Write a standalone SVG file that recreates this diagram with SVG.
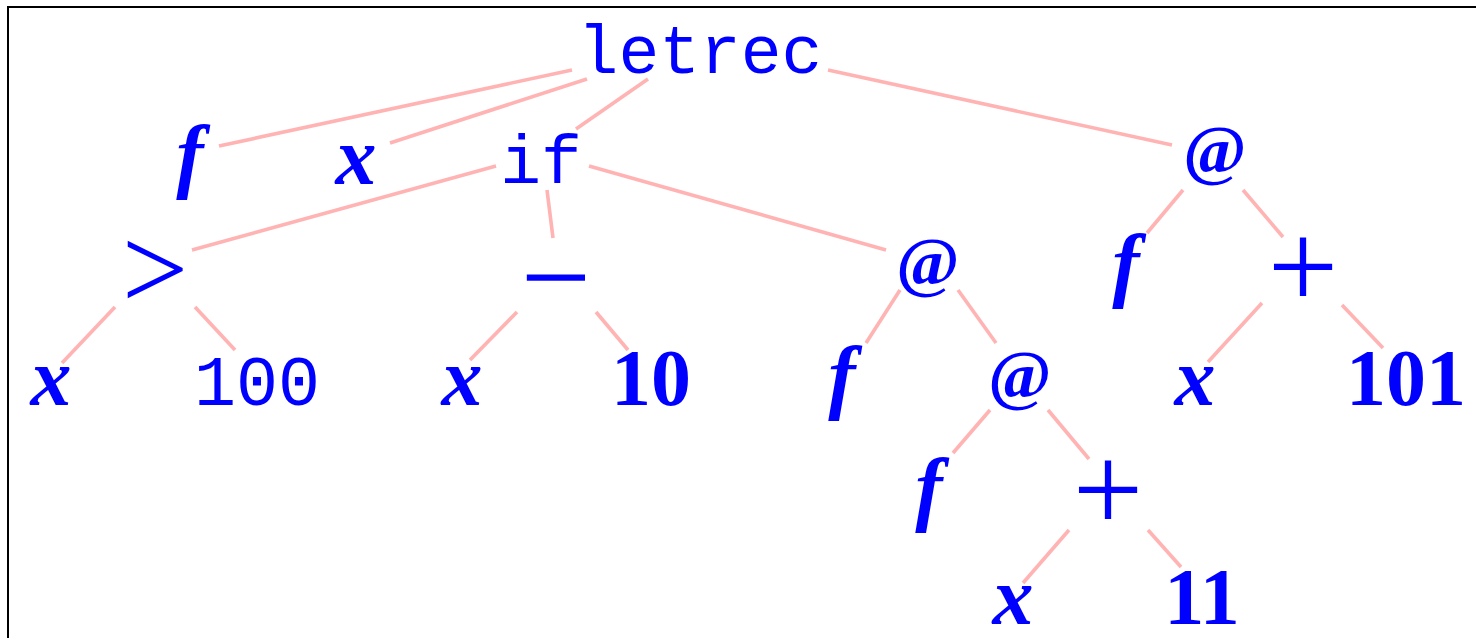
<svg xmlns="http://www.w3.org/2000/svg" width="1476" height="638" viewBox="0 0 1476 638">
<style>
.e{stroke:#FFB3B3;stroke-width:3.6;fill:none}
text{fill:#0000FF;text-anchor:middle}
.tt{font-family:"Liberation Mono",monospace;font-size:68px}
.v{font-family:"Liberation Serif",serif;font-style:italic;font-weight:bold;font-size:82px}
.n{font-family:"Liberation Serif",serif;font-weight:bold;font-size:80px}
.at{font-family:"Liberation Serif",serif;font-weight:bold;font-size:68px}
.op{font-family:"Liberation Serif",serif;font-size:125px}
</style>
<rect x="8" y="7" width="1480" height="640" fill="#fff" stroke="#000" stroke-width="2"/>
<g id="connectors">
<line class="e" x1="572" y1="70" x2="219" y2="146"/>
<line class="e" x1="587" y1="79" x2="390" y2="143"/>
<line class="e" x1="648" y1="79" x2="576" y2="129"/>
<line class="e" x1="828" y1="70" x2="1172" y2="145"/>
<line class="e" x1="496" y1="166" x2="192" y2="250"/>
<line class="e" x1="547" y1="190" x2="553" y2="238"/>
<line class="e" x1="589" y1="166" x2="886" y2="250"/>
<line class="e" x1="1183" y1="190" x2="1147" y2="233"/>
<line class="e" x1="1243" y1="190" x2="1283" y2="237"/>
<line class="e" x1="115" y1="307" x2="62" y2="363"/>
<line class="e" x1="195" y1="307" x2="235" y2="350"/>
<line class="e" x1="517" y1="312" x2="470" y2="360"/>
<line class="e" x1="596" y1="312" x2="628" y2="350"/>
<line class="e" x1="900" y1="290" x2="866" y2="343"/>
<line class="e" x1="958" y1="290" x2="996" y2="343"/>
<line class="e" x1="1262" y1="303" x2="1208" y2="362"/>
<line class="e" x1="1342" y1="305" x2="1383" y2="348"/>
<line class="e" x1="990" y1="410" x2="953" y2="453"/>
<line class="e" x1="1048" y1="410" x2="1089" y2="459"/>
<line class="e" x1="1069" y1="530" x2="1023" y2="583"/>
<line class="e" x1="1148" y1="530" x2="1181" y2="567"/>
</g>
<g id="letrec"><text class="tt" x="700" y="73">letrec</text></g>
<g id="f1"><text class="v" x="190" y="182">f</text></g>
<g id="x1"><text class="v" x="356" y="184">x</text></g>
<g id="if"><text class="tt" x="541" y="183">if</text></g>
<g id="app1"><text class="at" x="1215" y="172">@</text></g>
<g id="gt"><text class="op" x="155" y="309" style="font-size:118px">&gt;</text></g>
<g id="minus"><text class="op" x="556" y="319">−</text></g>
<g id="app2"><text class="at" x="928" y="284">@</text></g>
<g id="f2"><text class="v" x="1126" y="291">f</text></g>
<g id="plus1"><text class="op" x="1303" y="308">+</text></g>
<g id="x2"><text class="v" x="51" y="405">x</text></g>
<g id="n100"><text class="tt" x="257" y="405" style="font-size:70px">100</text></g>
<g id="x3"><text class="v" x="462" y="405">x</text></g>
<g id="n10"><text class="n" x="651" y="405">10</text></g>
<g id="f3"><text class="v" x="842" y="403">f</text></g>
<g id="app3"><text class="at" x="1020" y="397">@</text></g>
<g id="x4"><text class="v" x="1195" y="405">x</text></g>
<g id="n101"><text class="n" x="1406" y="405">101</text></g>
<g id="f4"><text class="v" x="929" y="515">f</text></g>
<g id="plus2"><text class="op" x="1108" y="531">+</text></g>
<g id="x5"><text class="v" x="1013" y="624">x</text></g>
<g id="n11"><text class="n" x="1202" y="624">11</text></g>
</svg>
